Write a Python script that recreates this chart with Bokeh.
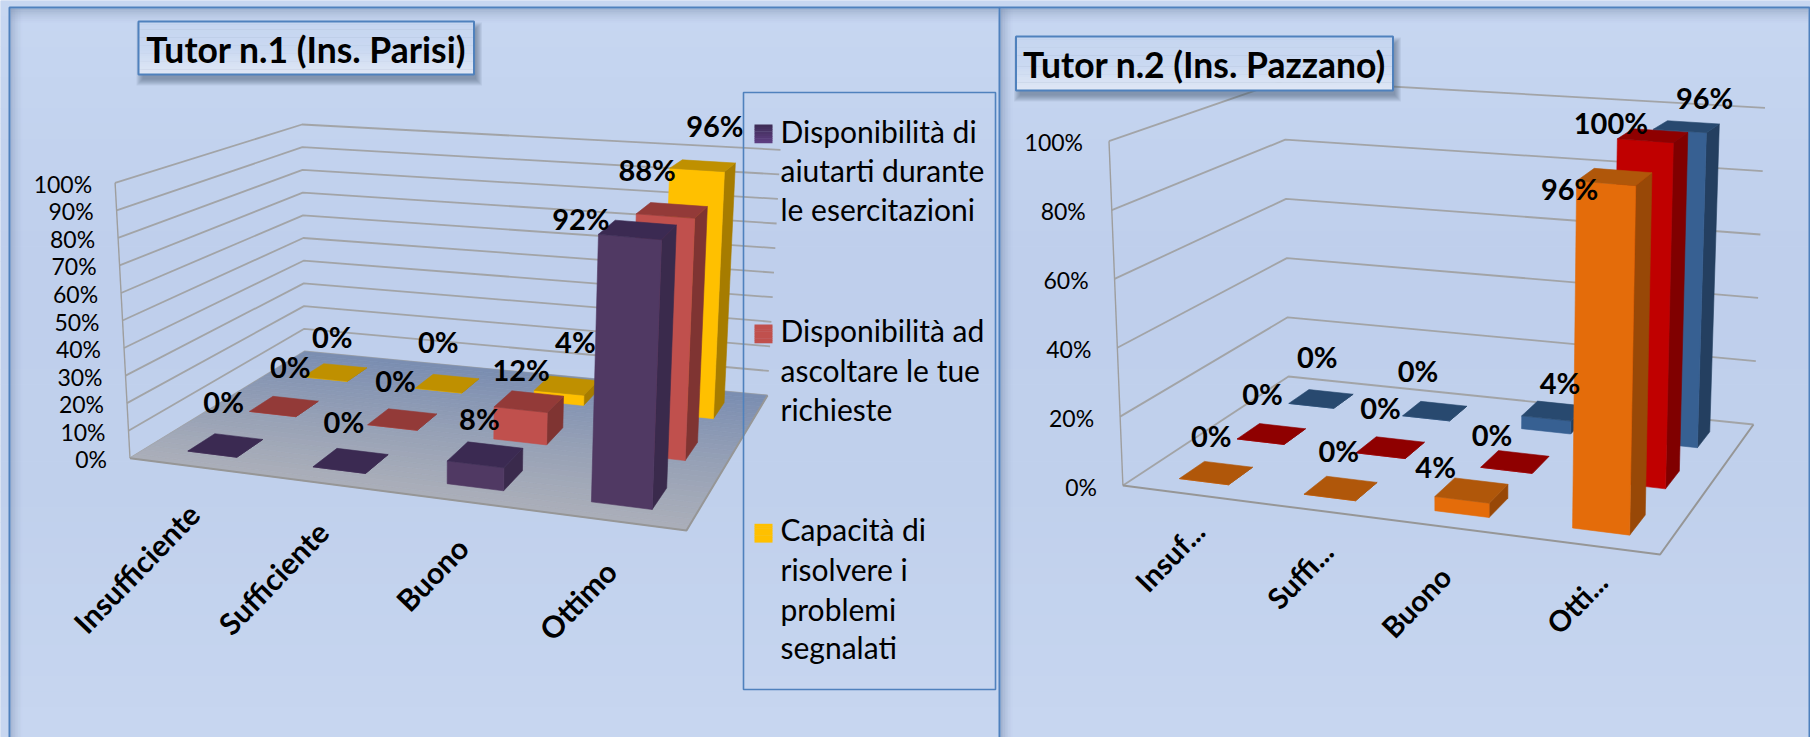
from bokeh.plotting import figure
from bokeh.models import Range1d
from bokeh.core.properties import value
from bokeh.embed import file_html
from bokeh.resources import INLINE

# ---------- data ----------
CATEGORIES_1 = ["Insufficiente", "Sufficiente", "Buono", "Ottimo"]
CATEGORIES_2 = ["Insuf...", "Suffi...", "Buono", "Otti..."]
TICKS_1 = [0, 10, 20, 30, 40, 50, 60, 70, 80, 90, 100]
TICKS_2 = [0, 20, 40, 60, 80, 100]
T1_AIUTO = [0, 0, 8, 92]
T1_ASCOLTO = [0, 0, 12, 88]
T1_PROBLEMI = [0, 0, 4, 96]
T2_AIUTO = [0, 0, 4, 96]
T2_ASCOLTO = [0, 0, 0, 100]
T2_PROBLEMI = [0, 0, 4, 96]
TITLE_1 = "Tutor n.1 (Ins. Parisi)"
TITLE_2 = "Tutor n.2 (Ins. Pazzano)"
LEGEND_1 = [["Disponibilità di", "aiutarti durante", "le esercitazioni"],
            ["Disponibilità ad", "ascoltare le tue", "richieste"],
            ["Capacità di", "risolvere i", "problemi", "segnalati"]]

# ---------- layout / style ----------
W, H = 1810, 737
FONT = value("Lato")
GRID = "#9e9e9e"
BORDER = "#4f81bd"
PAL_1 = [("#503963", "#3b2a52", "#3a2a4c"), ("#c0504d", "#933a38", "#7f3432"), ("#ffc000", "#bf9000", "#a67c00")]
PAL_2 = [("#e46c0a", "#b0570a", "#984807"), ("#c00000", "#8f0000", "#800000"), ("#376092", "#28496f", "#243f60")]
# corners: front-left, front-right, back-right, back-left
FLOOR_1 = [(129.5, 457.7), (686, 530), (767, 395), (304, 351)]
TOP_1 = [(114.6, 182.3), (698, 230), (780, 149.3), (301.6, 124)]
FLOOR_2 = [(1122.4, 485), (1659.6, 554), (1753, 424), (1288, 376)]
TOP_2 = [(1108.5, 140.7), (1667, 183), (1764.5, 107.3), (1284, 80)]
U0, U1, V0, V1 = 0.32, 0.72, 0.28, 0.70
OFF_1 = [[(-2, -44), (-7, -39), (-6, -36), (-57, -11)],
         [(6, -40), (-7, -39), (-8, -32), (-25, -41)],
         [(-3, -36), (-9, -42), (9, -44), (12, -40)]]
OFF_2 = [[(-5, -37), (-2, -38), (-36, -24), (-45, 12)],
         [(-9, -40), (-10, -40), (-23, -27), (-42, -13)],
         [(-4, -42), (-17, -40), (6, -28), (18, -29)]]
CAT_OFF_1 = [(0, 42), (0, 43), (1, 41), (0, 45)]
CAT_OFF_2 = [(12, 32), (13, 36), (-3, 44), (12, 31)]


def homography(q):
    (x0, y0), (x1, y1), (x2, y2), (x3, y3) = q
    dx1, dx2, sx = x1 - x2, x3 - x2, x0 - x1 + x2 - x3
    dy1, dy2, sy = y1 - y2, y3 - y2, y0 - y1 + y2 - y3
    det = dx1 * dy2 - dx2 * dy1
    g = (sx * dy2 - dx2 * sy) / det
    h = (dx1 * sy - sx * dy1) / det
    a, b, c = x1 - x0 + g * x1, x3 - x0 + h * x3, x0
    d, e, f = y1 - y0 + g * y1, y3 - y0 + h * y3, y0
    def fn(s, t):
        w = g * s + h * t + 1
        return (a * s + b * t + c) / w, (d * s + e * t + f) / w
    return fn


def projector(floor, top):
    """floor through a homography; height as a bilinear lift between the corner verticals"""
    hf = homography(floor)
    lift = [(t[0] - f[0], t[1] - f[1]) for f, t in zip(floor, top)]
    def P(u, v, z):
        s, t = u / 4, v / 3
        x, y = hf(s, t)
        lx = (lift[0][0] * (1 - s) + lift[1][0] * s) * (1 - t) + (lift[3][0] * (1 - s) + lift[2][0] * s) * t
        ly = (lift[0][1] * (1 - s) + lift[1][1] * s) * (1 - t) + (lift[3][1] * (1 - s) + lift[2][1] * s) * t
        return x + lx * z, y + ly * z
    return P


def mix(c0, c1, t):
    a = [int(c0[i:i + 2], 16) for i in (1, 3, 5)]
    b = [int(c1[i:i + 2], 16) for i in (1, 3, 5)]
    return "#%02x%02x%02x" % tuple(round(p + (q - p) * t) for p, q in zip(a, b))


p = figure(width=W, height=H, output_backend="svg", toolbar_location=None,
           x_range=Range1d(0, W), y_range=Range1d(H, 0), min_border=0,
           x_axis_type="linear", y_axis_type="linear")
p.axis.visible = False
p.grid.visible = False
p.outline_line_color = None
p.background_fill_color = "#c4d4ee"


def vbands(x0, x1, y0, y1, stops, n):
    """vertical gradient through colour stops"""
    L, R, T, B, C = [], [], [], [], []
    for k in range(n):
        f = k / (n - 1) * (len(stops) - 1)
        m = min(int(f), len(stops) - 2)
        L.append(x0); R.append(x1)
        T.append(y0 + (y1 - y0) * k / n); B.append(y0 + (y1 - y0) * (k + 1) / n + 0.4)
        C.append(mix(stops[m], stops[m + 1], f - m))
    p.quad(left=L, right=R, top=T, bottom=B, fill_color=C, line_color=None)


def shadow(x0, x1, y0, y1, horizontal, color, alpha, n=8):
    L, R, T, B, A = [], [], [], [], []
    for k in range(n):
        a = alpha * (1 - k / n) ** 1.5
        if horizontal:
            L.append(x0 + (x1 - x0) * k / n); R.append(x0 + (x1 - x0) * (k + 1) / n); T.append(y0); B.append(y1)
        else:
            L.append(x0); R.append(x1); T.append(y0 + (y1 - y0) * k / n); B.append(y0 + (y1 - y0) * (k + 1) / n)
        A.append(a)
    p.quad(left=L, right=R, top=T, bottom=B, fill_color=color, fill_alpha=A, line_color=None)


# page background and panel frames
vbands(0, W, 0, H, ["#c7d7f1", "#bfcfec", "#c0d0ec", "#c7d6f0"], 48)
shadow(10, 998, 8, 22, False, "#8093b3", 0.5)
shadow(1000, 1808, 8, 22, False, "#8093b3", 0.5)
shadow(10, 22, 8, H, True, "#8093b3", 0.45)
shadow(1000, 1012, 8, H, True, "#8093b3", 0.55)
p.line([9, 9, 999, 999], [H, 7, 7, H], line_color=BORDER, line_width=2)
p.line([999, 1809, 1809], [7, 7, H], line_color=BORDER, line_width=2)


def chart(P, series, cats, ticks, pal, off, floor_fill, cat_off, tick_dx, cat_size):
    # walls
    for t in ticks:
        z = t / 100
        pts = [P(0, 0, z), P(0, 3, z), P(4, 3, z)]
        p.line([q[0] for q in pts], [q[1] for q in pts], line_color=GRID, line_width=1.8, line_alpha=0.9)
        x, y = P(0, 0, z)
        p.text([x + tick_dx], [y + 1], text=[f"{t}%"], text_font=FONT, text_font_size="23px",
               text_color="#000000", text_align="right", text_baseline="middle")
    p.line(*zip(P(0, 0, 0), P(0, 0, 1)), line_color=GRID, line_width=1.4)
    # floor
    if floor_fill:
        n = 30
        xs, ys, cs = [], [], []
        for k in range(n):
            a, b = 3 * k / n, 3 * (k + 1) / n
            q = [P(0, a, 0), P(4, a, 0), P(4, b, 0), P(0, b, 0)]
            xs.append([c[0] for c in q]); ys.append([c[1] for c in q])
            cs.append(mix(floor_fill[0], floor_fill[1], (k + 0.5) / n))
        p.patches(xs, ys, fill_color=cs, line_color=cs, line_width=0.6)
    q = [P(0, 0, 0), P(4, 0, 0), P(4, 3, 0), P(0, 3, 0)]
    p.line([c[0] for c in q[:3]], [c[1] for c in q[:3]], line_color="#969696", line_width=2)
    # bars, back row first
    for j in (2, 1, 0):
        for i, val in enumerate(series[j]):
            z = val / 100
            u0, u1, v0, v1 = i + U0, i + U1, j + V0, j + V1
            front, top, side = pal[j]
            faces = [([P(u1, v0, 0), P(u1, v1, 0), P(u1, v1, z), P(u1, v0, z)], side),
                     ([P(u0, v0, 0), P(u1, v0, 0), P(u1, v0, z), P(u0, v0, z)], front),
                     ([P(u0, v0, z), P(u1, v0, z), P(u1, v1, z), P(u0, v1, z)], top)]
            p.patches([[c[0] for c in f] for f, _ in faces], [[c[1] for c in f] for f, _ in faces],
                      fill_color=[c for _, c in faces], line_color=[c for _, c in faces], line_width=0.6)
    # value labels
    for j in (2, 1, 0):
        for i, val in enumerate(series[j]):
            x, y = P(i + (U0 + U1) / 2, j + (V0 + V1) / 2, val / 100)
            p.text([x + off[j][i][0]], [y + off[j][i][1]], text=[f"{val}%"], text_font=FONT,
                   text_font_style="bold", text_font_size="29px", text_color="#000000",
                   text_align="center", text_baseline="middle")
    # category labels
    for i, c in enumerate(cats):
        x, y = P(i + (U0 + U1) / 2, 0, 0)
        p.text([x + cat_off[i][0]], [y + cat_off[i][1]], text=[c], text_font=FONT, text_font_style="bold",
               text_font_size=cat_size, text_color="#000000", text_align="right", text_baseline="middle",
               angle=[46], angle_units="deg")


P1 = projector(FLOOR_1, TOP_1)
P2 = projector(FLOOR_2, TOP_2)
chart(P1, [T1_AIUTO, T1_ASCOLTO, T1_PROBLEMI], CATEGORIES_1, TICKS_1, PAL_1, OFF_1,
      ("#abafb9", "#7a8db1"), CAT_OFF_1, -23, "30px")
chart(P2, [T2_AIUTO, T2_ASCOLTO, T2_PROBLEMI], CATEGORIES_2, TICKS_2, PAL_2, OFF_2,
      None, CAT_OFF_2, -26, "29px")


def title_box(x0, x1, y0, y1, text, size):
    for k in range(7):
        g = 7 - k
        p.quad(left=[x0 + 3 - g + 2], right=[x1 + 3 + g - 2], top=[y0 + 6 - g + 2], bottom=[y1 + 6 + g - 2],
               fill_color="#44546f", fill_alpha=0.09, line_color=None)
    vbands(x0, x1, y0, y1, ["#c6d6f0", "#c9d8f1", "#dfe7f5"], 20)
    p.quad(left=[x0], right=[x1], top=[y0], bottom=[y1], fill_color=None, line_color=BORDER, line_width=2)
    p.text([(x0 + x1) / 2], [(y0 + y1) / 2 + 1], text=[text], text_font=FONT, text_font_style="bold",
           text_font_size=size, text_color="#000000", text_align="center", text_baseline="middle")


title_box(138, 473.5, 21, 74, TITLE_1, "35.5px")
title_box(1015.5, 1392.5, 36, 90, TITLE_2, "35.5px")

# legend of the first chart
p.quad(left=[743], right=[995], top=[92], bottom=[689], fill_color=None, line_color=BORDER, line_width=1.6)
LEG_Y = [(124, [130.3, 169.7, 208.7]), (324, [329.7, 369.7, 408]), (523.3, [528.7, 568.7, 608, 646.3])]
LEG_FILL = [["#3f2d57", "#5c3d80"], ["#c0504d", "#c0504d"], ["#ffc000", "#ffc000"]]
for (ytop, ys), lines, stops in zip(LEG_Y, LEGEND_1, LEG_FILL):
    vbands(754, 772, ytop, ytop + 18.4, stops, 8)
    p.text([780] * len(lines), ys, text=lines, text_font=FONT, text_font_size="30px", text_color="#000000",
           text_align="left", text_baseline="middle")

open("out.html", "w").write(file_html(p, INLINE))
